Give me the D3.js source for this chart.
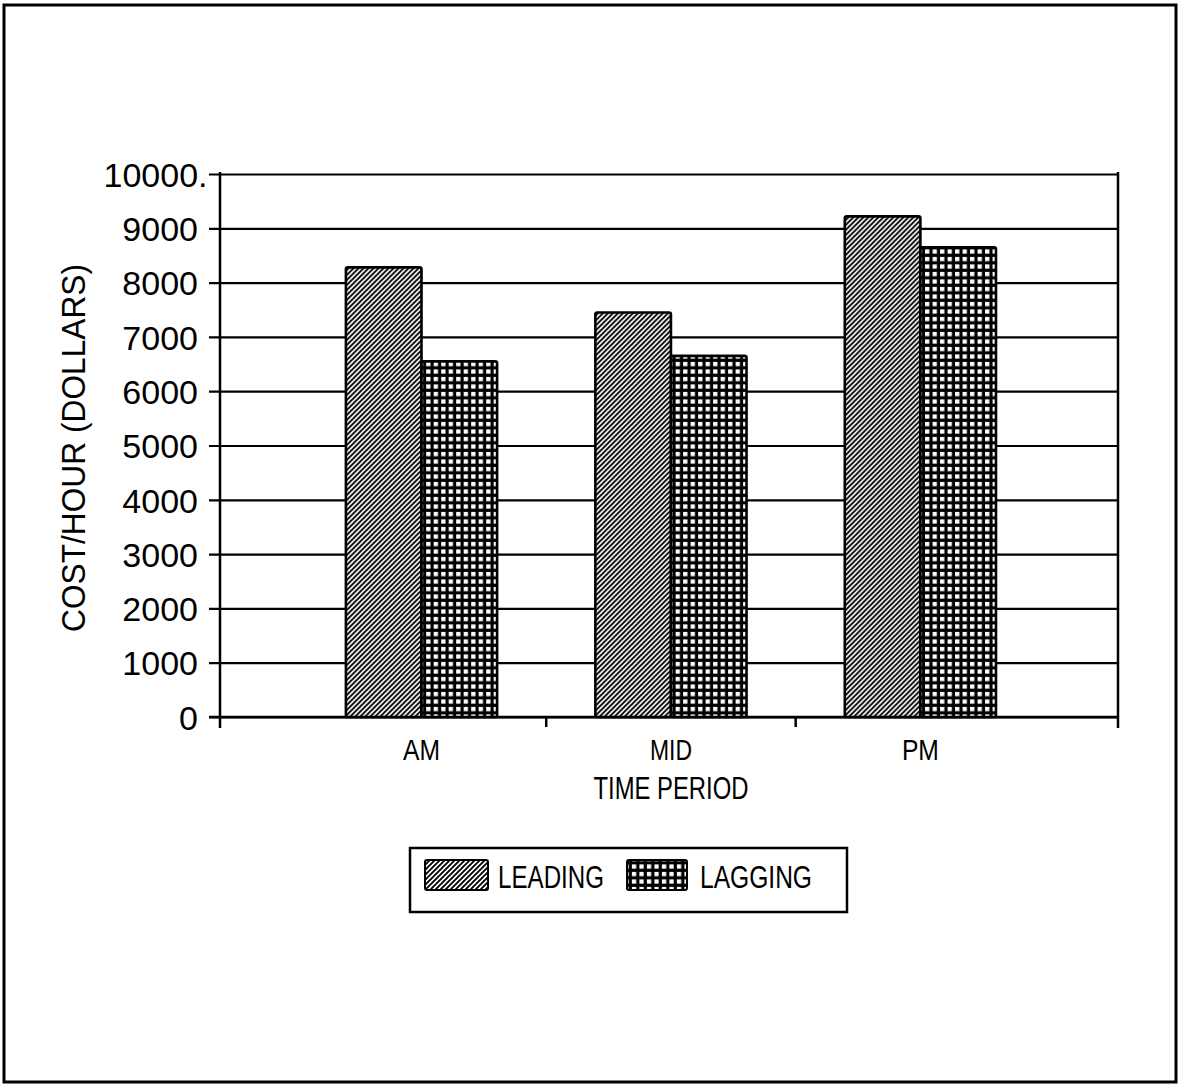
<!DOCTYPE html>
<html><head><meta charset="utf-8">
<script src="https://cdn.jsdelivr.net/npm/d3@7"></script>
<style>
body{margin:0;background:#fff}
svg{display:block}
text{font-family:"Liberation Sans",Arial,sans-serif;fill:#000}
</style>
</head><body>
<svg id="chart" width="1178" height="1086"></svg>
<script>
// ---- data ----
const categories = ["AM", "MID", "PM"];
const seriesNames = ["LEADING", "LAGGING"];
const leading = [8280, 7450, 9220];
const lagging = [6550, 6650, 8650];
const yTicks = [0, 1000, 2000, 3000, 4000, 5000, 6000, 7000, 8000, 9000, 10000];
const yTickLabels = ["0", "1000", "2000", "3000", "4000", "5000", "6000", "7000", "8000", "9000", "10000."];
const xTitle = "TIME PERIOD";
const yTitle = "COST/HOUR (DOLLARS)";

// ---- layout ----
const W = 1178, H = 1086;
const L = 220, R = 1118, T = 174, B = 717;
const svg = d3.select("#chart");

svg.append("rect").attr("x", 0).attr("y", 0).attr("width", W).attr("height", H).attr("fill", "#fff");

// patterns
const defs = svg.append("defs");
const hp = 5;
const hatch = defs.append("pattern").attr("id", "hatch").attr("patternUnits", "userSpaceOnUse")
  .attr("width", hp).attr("height", hp);
hatch.append("rect").attr("width", hp).attr("height", hp).attr("fill", "#fff");
hatch.append("path").attr("d", `M-1,1 L1,-1 M0,${hp} L${hp},0 M${hp-1},${hp+1} L${hp+1},${hp-1}`)
  .attr("stroke", "#000").attr("stroke-width", 1.9);

const gp = 7.5;
const grid = defs.append("pattern").attr("id", "grid").attr("patternUnits", "userSpaceOnUse")
  .attr("width", gp).attr("height", gp);
grid.append("rect").attr("width", gp).attr("height", gp).attr("fill", "#000");
grid.append("rect").attr("x", 1.9).attr("y", 1.9).attr("width", 4.3).attr("height", 4.3).attr("fill", "#fff");

const fills = {"LEADING": "url(#hatch)", "LAGGING": "url(#grid)"};

// outer border
svg.append("rect").attr("x", 4).attr("y", 5).attr("width", 1172).attr("height", 1077)
  .attr("fill", "none").attr("stroke", "#000").attr("stroke-width", 3);

// scales
const x = d3.scaleBand().domain(categories).range([L, R]).paddingInner(0).paddingOuter(0.3).align(0.513);
const xs = d3.scaleBand().domain(seriesNames).range([0, x.bandwidth()]).paddingInner(0).paddingOuter(0.65);
const y = d3.scaleLinear().domain([0, 10000]).range([B, T]);

// y axis with gridlines
const yAxis = d3.axisLeft(y).tickValues(yTicks)
  .tickFormat((d, i) => yTickLabels[i])
  .tickSizeInner(-(R - L)).tickSizeOuter(0).tickPadding(22);
const gy = svg.append("g").attr("transform", `translate(${L},0)`).call(yAxis);
gy.select(".domain").remove();
gy.selectAll(".tick line").attr("x1", -11).attr("stroke", "#000").attr("stroke-width", 2.2);
gy.selectAll(".tick text").attr("font-size", 34).attr("dy", "0.36em").attr("fill", "#000");
// shift labels ending with "." so digits stay aligned
gy.selectAll(".tick text").each(function(d, i) {
  if (yTickLabels[i].endsWith(".")) d3.select(this).attr("dx", 9.5);
});

// frame lines
svg.append("line").attr("x1", L).attr("x2", L).attr("y1", T - 2).attr("y2", B + 11)
  .attr("stroke", "#000").attr("stroke-width", 2.5);
svg.append("line").attr("x1", R).attr("x2", R).attr("y1", T - 2).attr("y2", B + 11)
  .attr("stroke", "#000").attr("stroke-width", 2.5);
svg.append("line").attr("x1", L - 11).attr("x2", R).attr("y1", B).attr("y2", B)
  .attr("stroke", "#000").attr("stroke-width", 2.5);

// boundary ticks on x axis (between categories)
const bounds = categories.slice(1).map(c => x(c));
svg.selectAll(".btick").data(bounds).enter().append("line")
  .attr("x1", d => d).attr("x2", d => d).attr("y1", B).attr("y2", B + 10)
  .attr("stroke", "#000").attr("stroke-width", 2.5);

// bars
const data = categories.map((c, i) => ({cat: c, values: [
  {s: "LEADING", v: leading[i]}, {s: "LAGGING", v: lagging[i]}]}));
const groups = svg.append("g").selectAll("g").data(data).enter().append("g")
  .attr("transform", d => `translate(${x(d.cat)},0)`);
groups.selectAll("rect").data(d => d.values).enter().append("rect")
  .attr("x", d => xs(d.s)).attr("width", xs.bandwidth())
  .attr("y", d => y(d.v)).attr("height", d => y(0) - y(d.v))
  .attr("fill", d => fills[d.s]).attr("stroke", "#000").attr("stroke-width", 2.6)
  .attr("rx", 2);

// x category labels
const xAxis = d3.axisBottom(x).tickSize(0).tickPadding(22);
const gx = svg.append("g").attr("transform", `translate(0,${B})`).call(xAxis);
gx.select(".domain").remove();
gx.selectAll(".tick line").remove();
const catW = {"AM": 37, "MID": 42, "PM": 37};
gx.selectAll(".tick text").attr("font-size", 30).attr("fill", "#000")
  .attr("textLength", d => catW[d]).attr("lengthAdjust", "spacingAndGlyphs");

// axis titles
svg.append("text").attr("x", x("MID") + x.bandwidth() / 2).attr("y", 799).attr("text-anchor", "middle")
  .attr("font-size", 31).attr("textLength", 155).attr("lengthAdjust", "spacingAndGlyphs")
  .text(xTitle);
svg.append("text").attr("transform", "translate(85,448) rotate(-90)").attr("text-anchor", "middle")
  .attr("font-size", 34).attr("textLength", 368).attr("lengthAdjust", "spacingAndGlyphs")
  .text(yTitle);

// legend
const lg = svg.append("g");
lg.append("rect").attr("x", 410).attr("y", 848).attr("width", 437).attr("height", 64)
  .attr("fill", "#fff").attr("stroke", "#000").attr("stroke-width", 2.5);
const legendItems = [
  {s: "LEADING", sx: 425, sw: 63, tx: 498, tw: 106},
  {s: "LAGGING", sx: 627, sw: 60, tx: 700, tw: 112}
];
legendItems.forEach(it => {
  lg.append("rect").attr("x", it.sx).attr("y", 860).attr("width", it.sw).attr("height", 30)
    .attr("fill", fills[it.s]).attr("stroke", "#000").attr("stroke-width", 2).attr("rx", 2);
  lg.append("text").attr("x", it.tx).attr("y", 888).attr("font-size", 31)
    .attr("textLength", it.tw).attr("lengthAdjust", "spacingAndGlyphs").text(it.s);
});
</script>
</body></html>
